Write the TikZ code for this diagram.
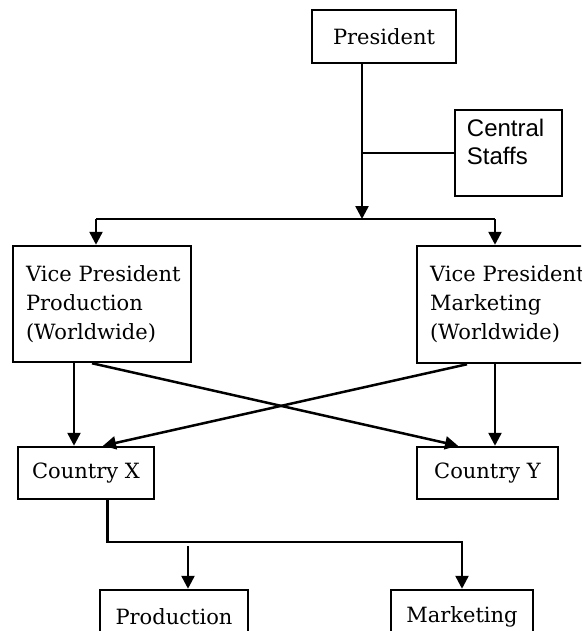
\documentclass[tikz,border=0pt]{standalone}
\usepackage{fontspec}
\setmainfont{DejaVu Serif}
\newfontfamily\staffsfont{Liberation Sans}
\usetikzlibrary{arrows.meta}

\begin{document}
\begin{tikzpicture}[x=1pt,y=-1pt,
  box/.style={draw, line width=2.5pt, rectangle, inner sep=0pt,
    font=\fontsize{21}{29}\selectfont},
  conn/.style={line width=2.5pt},
  arr/.style={conn, -{Triangle[length=13pt,width=13pt]}}]
\clip (0,0) rectangle (581,631);

% boxes
\node[box, minimum width=144, minimum height=53] (pres) at (384,36.5) {President};
\node[box, minimum width=107, minimum height=86] (cs) at (508.5,153) {};
\node[anchor=north west, align=left, inner sep=0pt,
  font=\staffsfont\fontsize{24}{28}\selectfont] (cstext) at ([xshift=13pt,yshift=-10pt]cs.north west) {Central\\Staffs};
\node[box, minimum width=178, minimum height=116, text width=152, align=left] (vpp) at (102,304)
  {\mbox{Vice President}\\Production\\(Worldwide)};
\node[box, minimum width=178, minimum height=117, text width=152, align=left] (vpm) at (506,304.5)
  {\mbox{Vice President}\\Marketing\\(Worldwide)};
\node[box, minimum width=136, minimum height=52] (cx) at (86,473) {Country X};
\node[box, minimum width=141, minimum height=52] (cy) at (487.5,473) {Country Y};
\node[box, minimum width=148, minimum height=53] (pr) at (174,616.5) {Production};
\node[box, minimum width=142, minimum height=53] (mk) at (462,616.5) {Marketing};

% junction points
\coordinate (j) at (362,219);
\coordinate (jl) at (96,219);
\coordinate (jr) at (495,219);
\coordinate (xa) at (74,0);
\coordinate (xb) at (92,0);
\coordinate (xc) at (458,0);
\coordinate (xd) at (467,0);
\coordinate (xe) at (103,0);
\coordinate (bend) at (107.5,542);
\coordinate (ps) at (188,546);

% president to vice presidents
\draw[arr] (pres.south -| j) -- (j);
\draw[conn] (cs.west) -- (cs.west -| j);
\draw[conn] (jl) -- (jr);
\draw[arr] (jl) -- (vpp.north -| jl);
\draw[arr] (jr) -- (vpm.north -| jr);

% vice presidents to countries
\draw[arr] (vpp.south -| xa) -- (cx.north -| xa);
\draw[arr] (vpp.south -| xb) -- (cy.north -| xc);
\draw[arr] (vpm.south -| xd) -- (cx.north -| xe);
\draw[arr] (vpm.south -| jr) -- (cy.north -| jr);

% country X to its departments
\draw[arr] (cx.south -| bend) -- (bend) -| (mk.north);
\draw[arr] (ps) -- (ps |- pr.north);
\end{tikzpicture}
\end{document}
